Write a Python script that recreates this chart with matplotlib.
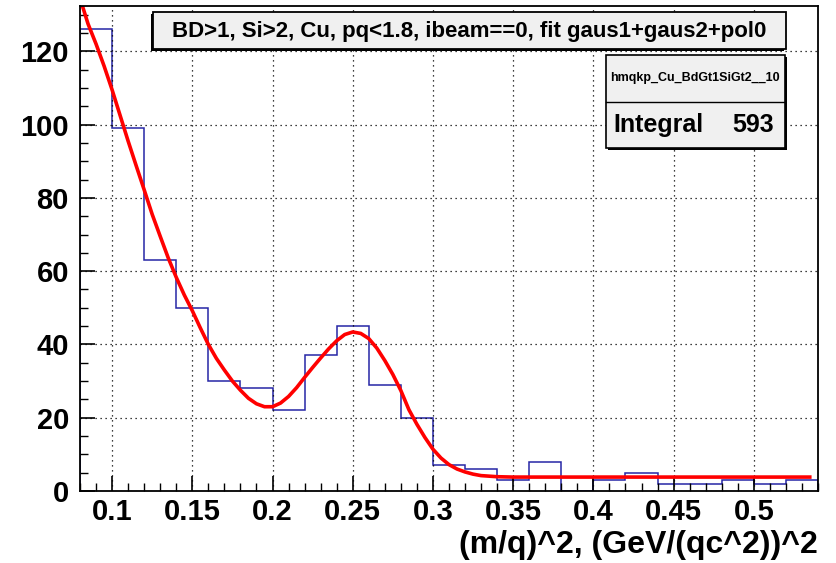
import numpy as np
import matplotlib
matplotlib.use("Agg")
import matplotlib.pyplot as plt
from matplotlib.patches import Rectangle
from matplotlib.ticker import MultipleLocator

plt.rcParams['font.family'] = ['Liberation Sans', 'DejaVu Sans']
plt.rcParams['font.weight'] = 'bold'

# histogram: 23 bins of 0.02 from 0.08 to 0.54
bin_edges = np.round(np.arange(0.08, 0.5401, 0.02), 2)
counts = [126, 99, 63, 50, 30, 28, 22, 37, 45, 29, 20, 7, 6, 3, 8, 0, 3, 5, 2, 2, 3, 2, 3]

# fit curve (gaus1+gaus2+pol0)
fit_x = [0.080, 0.085, 0.090, 0.095, 0.100, 0.105, 0.110, 0.115, 0.120, 0.125,
         0.130, 0.135, 0.140, 0.145, 0.150, 0.155, 0.160, 0.165, 0.170, 0.175,
         0.180, 0.185, 0.190, 0.195, 0.200, 0.205, 0.210, 0.215, 0.220, 0.225,
         0.230, 0.235, 0.240, 0.245, 0.250, 0.255, 0.260, 0.265, 0.270, 0.275,
         0.280, 0.285, 0.290, 0.295, 0.300, 0.305, 0.310, 0.315, 0.320, 0.325,
         0.330, 0.340, 0.350, 0.536]
fit_y = [134.5, 127.5, 122.0, 116.0, 109.5, 102.5, 95.5, 88.8, 82.2, 75.5,
         69.5, 63.6, 58.3, 53.5, 49.2, 44.5, 40.0, 36.2, 33.0, 30.0,
         27.5, 25.3, 23.8, 23.0, 23.0, 24.0, 25.8, 28.2, 31.0, 33.7,
         36.3, 38.8, 41.0, 42.7, 43.4, 43.0, 41.6, 39.0, 35.6, 31.8,
         27.4, 22.2, 18.2, 14.6, 11.4, 9.0, 7.2, 6.0, 5.2, 4.6,
         4.2, 3.9, 3.8, 3.8]

title = "BD>1, Si>2, Cu, pq<1.8, ibeam==0, fit gaus1+gaus2+pol0"
hist_name = "hmqkp_Cu_BdGt1SiGt2__10"
integral = 593
xlabel = "(m/q)^2, (GeV/(qc^2))^2"

W, H = 836, 563
fig = plt.figure(figsize=(W / 100, H / 100), dpi=100)
ax = fig.add_axes([80 / W, 1 - 491 / H, (818 - 80) / W, (491 - 5.5) / H])

ax.stairs(counts, bin_edges, color='#2626a6', linewidth=1.1, baseline=0)
ax.plot(fit_x, fit_y, color='#ff0000', linewidth=2.6, solid_capstyle='butt',
        solid_joinstyle='round')

ax.set_xlim(0.08, 0.54)
ax.set_ylim(0, 132.5)
ax.xaxis.set_minor_locator(MultipleLocator(0.01))
ax.yaxis.set_major_locator(MultipleLocator(20))
ax.yaxis.set_minor_locator(MultipleLocator(5))
ax.set_xticks([0.1, 0.15, 0.2, 0.25, 0.3, 0.35, 0.4, 0.45, 0.5])
ax.set_xticklabels(['0.1', '0.15', '0.2', '0.25', '0.3', '0.35', '0.4', '0.45', '0.5'])
ax.tick_params(which='major', direction='in', length=11, width=1.2, labelsize=21, pad=8)
ax.tick_params(which='minor', direction='in', length=6, width=1.0)
ax.tick_params(axis='x', which='major', pad=5)
ax.tick_params(top=False, right=False)
ax.grid(True, which='major', color='black', linestyle=(0, (1, 3)), linewidth=0.9)
for s in ax.spines.values():
    s.set_linewidth(1.3)

ax.set_xlabel(xlabel, fontsize=23, fontweight='bold', loc='right', labelpad=3)

# title box with shadow
fig.add_artist(Rectangle((151 / W, 1 - 51 / H), (786 - 153) / W, (50 - 13) / H,
                         transform=fig.transFigure, facecolor='black',
                         edgecolor='black', linewidth=0, zorder=4))
fig.add_artist(Rectangle((153 / W, 1 - 49 / H), (786 - 153) / W, (50 - 13) / H,
                         transform=fig.transFigure, facecolor='#f0f0f0',
                         edgecolor='black', linewidth=1.3, zorder=5))
fig.text(469 / W, 1 - 31 / H, title, ha='center', va='center', fontsize=16,
         fontweight='bold', zorder=6)

# stats box with shadow
fig.add_artist(Rectangle((608 / W, 1 - 150 / H), (785 - 606) / W, (148 - 55) / H,
                         transform=fig.transFigure, facecolor='black',
                         edgecolor='black', linewidth=0, zorder=4))
fig.add_artist(Rectangle((606 / W, 1 - 148 / H), (785 - 606) / W, (148 - 55) / H,
                         transform=fig.transFigure, facecolor='#f0f0f0',
                         edgecolor='black', linewidth=1.2, zorder=5))
fig.add_artist(plt.Line2D([606 / W, 785 / W], [1 - 102 / H, 1 - 102 / H],
                          transform=fig.transFigure, color='black', linewidth=1.0, zorder=6))
fig.text(695 / W, 1 - 78 / H, hist_name, ha='center', va='center', fontsize=9,
         fontweight='bold', zorder=6)
fig.text(613 / W, 1 - 125 / H, 'Integral', ha='left', va='center', fontsize=18,
         fontweight='bold', zorder=6)
fig.text(774 / W, 1 - 125 / H, str(integral), ha='right', va='center', fontsize=18,
         fontweight='bold', zorder=6)

fig.savefig('out.png', dpi=100, facecolor='white')
